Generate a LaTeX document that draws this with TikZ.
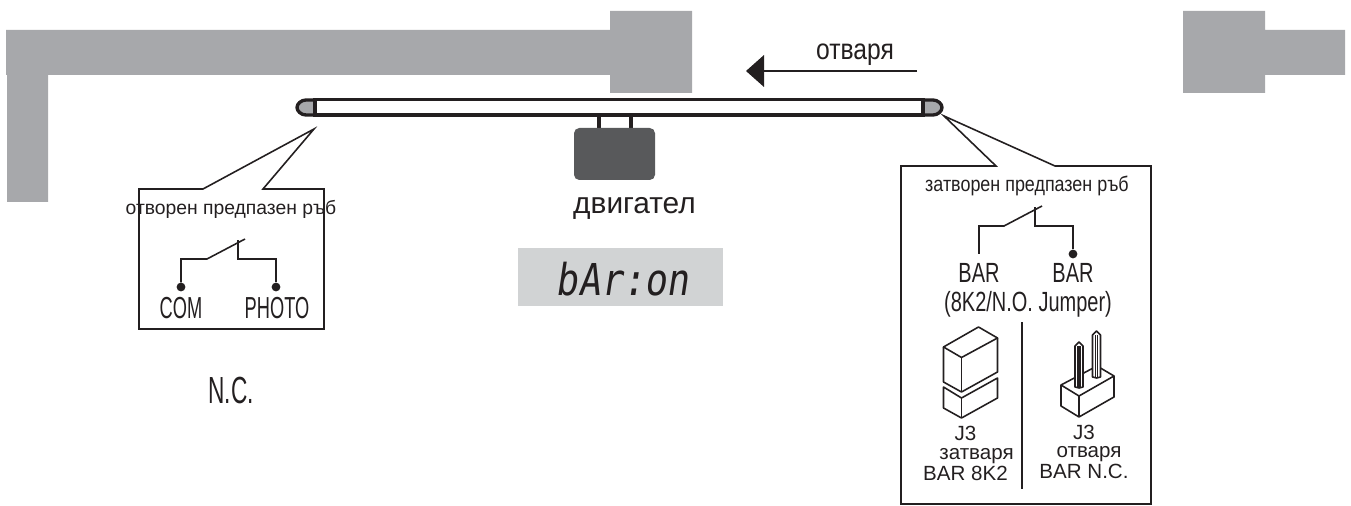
\documentclass[tikz,border=0pt]{standalone}
\usepackage{fontspec}
\setmainfont{Liberation Sans}
\newfontfamily\condfont[FakeStretch=0.72]{Liberation Sans}
\newfontfamily\narrowfont[FakeStretch=0.6]{Liberation Sans}
\newfontfamily\midfont[FakeStretch=0.85]{Liberation Sans}
\newfontfamily\lcdfont[FakeSlant=0.15,FakeStretch=0.84]{DejaVu Sans Mono}
\definecolor{wallgray}{HTML}{A7A8AB}
\definecolor{motorgray}{HTML}{58595B}
\definecolor{lcdgray}{HTML}{D1D3D4}
\definecolor{inkblack}{HTML}{231F20}
\tikzset{
    wire/.style={draw=inkblack,line width=0.9pt},
    barline/.style={draw=inkblack,line width=1.9pt},
    contact/.style={circle,fill=inkblack,inner sep=0pt,minimum size=5pt},
    caption/.style={text=inkblack,font=\fontsize{11.7}{13}\selectfont,inner sep=0pt},
    pinlabel/.style={text=inkblack,font=\condfont\fontsize{15.8}{17}\selectfont,inner sep=0pt},
    comlabel/.style={text=inkblack,font=\narrowfont\fontsize{17.3}{19}\selectfont,inner sep=0pt}
}
\begin{document}
\begin{tikzpicture}[x=0.02cm,y=-0.02cm]
    \useasboundingbox (0,0) rectangle (1351,506);
    % wall
    \fill[wallgray] (6,30) -- (610,30) -- (610,11) -- (692,11) -- (692,93) -- (610,93) -- (610,75)
        -- (48,75) -- (48,202) -- (7,202) -- (7,75) -- (6,75) -- cycle;
    \fill[wallgray] (1183,11) -- (1265,11) -- (1265,30) -- (1345,30) -- (1345,75) -- (1265,75)
        -- (1265,93) -- (1183,93) -- cycle;
    % direction
    \coordinate (arrowstart) at (917,71);
    \coordinate (arrowneck) at (762,71);
    \draw[draw=inkblack,line width=1.7pt] (arrowstart) -- (arrowneck);
    \fill[inkblack] (746,71) -- (764,55) -- (764,87) -- cycle;
    \node[text=inkblack,font=\midfont\fontsize{16.5}{18}\selectfont,inner sep=0pt] (opens) at (855,55) {отваря};
    % safety edge
    \fill[wallgray] (315,100) -- (306,100) .. controls (301,100) and (297,104) .. (297,107.5)
        .. controls (297,111) and (301,115) .. (306,115) -- (315,115) -- cycle;
    \fill[wallgray] (923,100) -- (933,100) .. controls (938,100) and (942,104) .. (942,107.5)
        .. controls (942,111) and (938,115) .. (933,115) -- (923,115) -- cycle;
    \draw[barline] (315,100) -- (306,100) .. controls (301,100) and (297,104) .. (297,107.5)
        .. controls (297,111) and (301,115) .. (306,115) -- (315,115);
    \draw[barline] (923,100) -- (933,100) .. controls (938,100) and (942,104) .. (942,107.5)
        .. controls (942,111) and (938,115) .. (933,115) -- (923,115);
    \draw[barline] (315,99.5) rectangle (923,115);
    % motor
    \draw[barline] (599,115) -- (599,128);
    \draw[barline] (631,115) -- (631,128);
    \node[fill=motorgray,rounded corners=3pt,minimum width=81*0.02cm,minimum height=52*0.02cm,inner sep=0pt] (motor) at (614.5,154) {};
    \node[text=inkblack,font=\fontsize{17}{19}\selectfont,inner sep=0pt] (motorname) at (634.5,208) {двигател};
    \node[fill=lcdgray,minimum width=205*0.02cm,minimum height=58*0.02cm,inner sep=0pt] (display) at (620.5,277) {};
    \node[text=inkblack,font=\lcdfont\fontsize{25}{27}\selectfont,inner sep=0pt] (displaytext) at (622.5,279) {bAr:on};
    % open edge
    \draw[wire] (139,189) -- (203,189) -- (314,129) -- (263,189) -- (324,189) -- (324,329) -- (139,329) -- cycle;
    \node[text=inkblack,font=\fontsize{11}{13}\selectfont,inner sep=0pt] (opentitle) at (231,209) {отворен предпазен ръб};
    \node[contact] (opencom) at (181,287) {};
    \node[contact] (openphoto) at (276,287) {};
    \draw[wire] (opencom) -- (181,259) -- (207,259) -- (245,239);
    \draw[wire] (openphoto) -- (276,259) -- (238,259) -- (238,240);
    \node[comlabel] (comname) at (181,308) {COM};
    \node[comlabel] (photoname) at (277,308) {PHOTO};
    \node[text=inkblack,font=\narrowfont\fontsize{21.5}{23}\selectfont,inner sep=0pt] (nc) at (231,390) {N.C.};
    % closed edge
    \draw[wire] (901,166) -- (996,166) -- (944,116) -- (1055,166) -- (1151,166) -- (1151,504) -- (901,504) -- cycle;
    \node[text=inkblack,font=\midfont\fontsize{12}{14}\selectfont,inner sep=0pt] (closedtitle) at (1027,186) {затворен предпазен ръб};
    \node[contact] (barright) at (1073,254) {};
    \coordinate (barleft) at (979,254);
    \draw[wire] (barleft) -- (979,226) -- (1004,226) -- (1042,206);
    \draw[wire] (barright) -- (1073,226) -- (1035,226) -- (1035,207);
    \node[pinlabel] (barone) at (979,272.5) {BAR};
    \node[pinlabel] (bartwo) at (1073,272.5) {BAR};
    \node[pinlabel] (barnote) at (1028,304) {(8K2/N.O. Jumper)};
    \draw[wire] (1022,322) -- (1022,489);
    % jumper on
    \draw[wire,line join=round] (943.5,347) -- (978.5,327) -- (997.5,338) -- (961.5,357.5) -- cycle;
    \draw[wire,line join=round] (943.5,347) -- (943.5,382) -- (961.5,392) -- (997.5,372) -- (997.5,338);
    \draw[wire] (961.5,357.5) -- (961.5,392);
    \draw[wire,line join=round] (943.5,387) -- (961.5,398) -- (997.5,378) -- (997.5,398) -- (961.5,418) -- (943.5,408) -- cycle;
    \draw[wire] (961.5,398) -- (961.5,418);
    \node[caption] (jthreeon) at (965.5,433) {J3};
    \node[caption] (closes) at (976.5,456) {затваря};
    \node[caption] (jumperon) at (965.5,473) {BAR 8K2};
    % jumper off
    \draw[wire,line join=round] (1061,385) -- (1097,366) -- (1114,376) -- (1079,396) -- cycle;
    \draw[wire,line join=round] (1061,385) -- (1061,406) -- (1079,417) -- (1114,397) -- (1114,376);
    \draw[wire] (1079,396) -- (1079,417);
    \foreach \px/\ptop/\pbot in {1079/342/388,1096.5/331/378}{
        \filldraw[wire,fill=white,line join=round] (\px-4,\pbot-1) -- (\px-4,\ptop+4) -- (\px,\ptop) -- (\px+4,\ptop+4)
            -- (\px+4,\pbot-1) -- (\px,\pbot) -- cycle;
        \draw[wire,line width=0.6pt] (\px-1,\ptop+4) -- (\px-1,\pbot);
        \draw[wire,line width=0.6pt] (\px+1,\ptop+4) -- (\px+1,\pbot);
    }
    \node[caption] (jthreeoff) at (1084,432) {J3};
    \node[caption] (opensj) at (1089,454) {отваря};
    \node[caption] (jumperoff) at (1084,471) {BAR N.C.};
\end{tikzpicture}
\end{document}
